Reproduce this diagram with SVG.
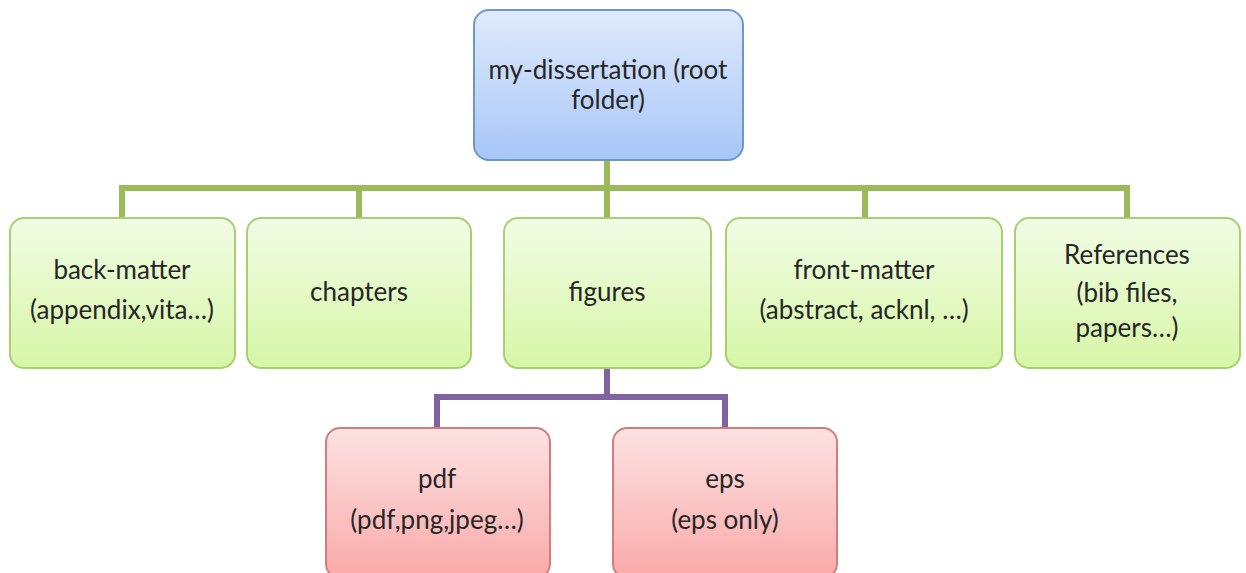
<svg xmlns="http://www.w3.org/2000/svg" width="1246" height="573" viewBox="0 0 1246 573">
<defs>
<linearGradient id="gBlue" x1="0" y1="0" x2="0" y2="1"><stop offset="0" stop-color="#dfeafc"/><stop offset="1" stop-color="#a8c6f8"/></linearGradient>
<linearGradient id="gGreen" x1="0" y1="0" x2="0" y2="1"><stop offset="0" stop-color="#f2fce6"/><stop offset="1" stop-color="#d6f6a6"/></linearGradient>
<linearGradient id="gRed" x1="0" y1="0" x2="0" y2="1"><stop offset="0" stop-color="#fde2e2"/><stop offset="1" stop-color="#f9a9a9"/></linearGradient>
<style>
text{font-family:Lato,"Liberation Sans",sans-serif;font-size:26px;fill:#262626;text-anchor:middle}
.blue{fill:url(#gBlue);stroke:#6f97c9;stroke-width:2}
.green{fill:url(#gGreen);stroke:#a7d070;stroke-width:2}
.red{fill:url(#gRed);stroke:#d27c7c;stroke-width:2}
.cg{stroke:#9bbb59;stroke-width:6;fill:none}
.cp{stroke:#8064a2;stroke-width:6;fill:none}
</style>
</defs>
<rect width="1246" height="573" fill="#ffffff"/>
<g id="connectors">
<path class="cg" d="M607 160V188M122 188H1127M122 185V218M359 185V218M607 185V218M865 185V218M1127 185V218"/>
<path class="cp" d="M607 368V397M437 397H725M437 394V427M725 394V427"/>
</g>
<g id="root"><rect class="blue" x="474" y="10" width="269" height="150" rx="15"/><text x="608" y="79">my-dissertation (root</text><text x="608" y="109">folder)</text></g>
<g id="back-matter"><rect class="green" x="10" y="218" width="225" height="150" rx="14"/><text x="122" y="279">back-matter</text><text x="122" y="319">(appendix,vita…)</text></g>
<g id="chapters"><rect class="green" x="247" y="218" width="224" height="150" rx="14"/><text x="359" y="301">chapters</text></g>
<g id="figures"><rect class="green" x="504" y="218" width="207" height="150" rx="14"/><text x="607" y="301">figures</text></g>
<g id="front-matter"><rect class="green" x="726" y="218" width="276" height="150" rx="14"/><text x="864" y="279">front-matter</text><text x="864" y="319">(abstract, acknl, …)</text></g>
<g id="references"><rect class="green" x="1015" y="218" width="225" height="150" rx="14"/><text x="1127" y="264">References</text><text x="1127" y="302">(bib files,</text><text x="1127" y="337">papers…)</text></g>
<g id="pdf"><rect class="red" x="326" y="428" width="224" height="150" rx="14"/><text x="437" y="488">pdf</text><text x="437" y="529">(pdf,png,jpeg…)</text></g>
<g id="eps"><rect class="red" x="613" y="428" width="224" height="150" rx="14"/><text x="725" y="488">eps</text><text x="725" y="529">(eps only)</text></g>
</svg>
